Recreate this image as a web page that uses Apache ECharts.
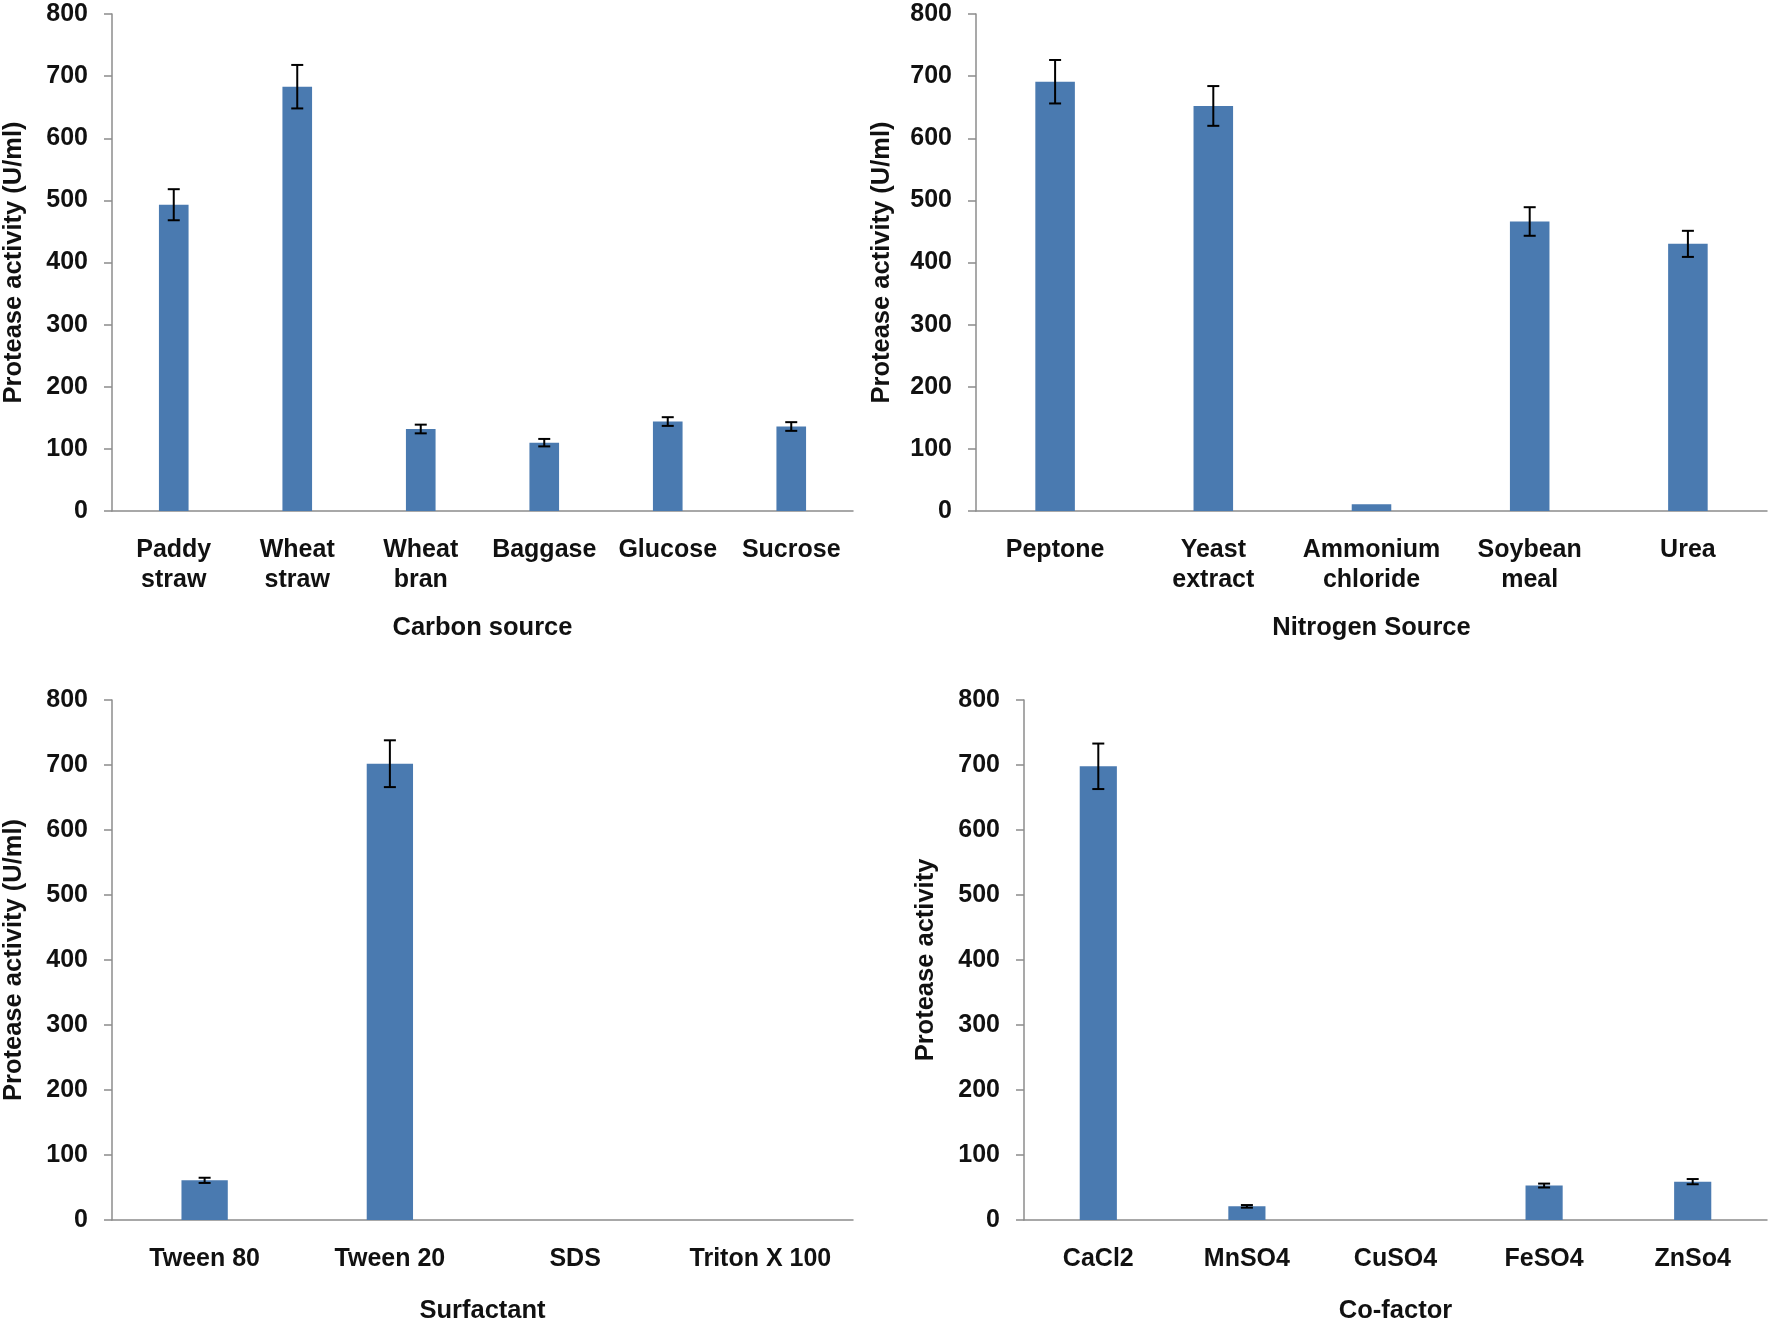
<!DOCTYPE html>
<html><head><meta charset="utf-8">
<script src="https://cdn.jsdelivr.net/npm/echarts@6/dist/echarts.min.js"></script>
<style>html,body{margin:0;padding:0;background:#fff}#c{width:1772px;height:1325px}</style>
</head><body><div id="c"></div>
<script>
const carbonCats = ['Paddy\nstraw','Wheat\nstraw','Wheat\nbran','Baggase','Glucose','Sucrose'];
const carbonVals = [493, 683, 132, 110, 144, 136];
const carbonErr  = [25, 35, 7, 6, 7, 7];

const nitroCats = ['Peptone','Yeast\nextract','Ammonium\nchloride','Soybean\nmeal','Urea'];
const nitroVals = [691, 652, 11, 466, 430];
const nitroErr  = [35, 32, 0, 23, 21];

const surfCats = ['Tween 80','Tween 20','SDS','Triton X 100'];
const surfVals = [61, 702, 0, 0];
const surfErr  = [4, 36, 0, 0];

const cofCats = ['CaCl2','MnSO4','CuSO4','FeSO4','ZnSo4'];
const cofVals = [698, 21, 0, 53, 59];
const cofErr  = [35, 2, 0, 3, 4];

const yTicks = [0,100,200,300,400,500,600,700,800];
const xNames = ['Carbon source','Nitrogen Source','Surfactant','Co-factor'];
const yNames = ['Protease activity (U/ml)','Protease activity (U/ml)','Protease activity (U/ml)','Protease activity'];

const FONT = 'Liberation Sans, Arial, sans-serif';
const BAR = '#4a7ab0';
const AXIS = '#8c8c8c';

const grids = [
  {left:112, top:14, width:741, height:497},
  {left:976, top:14, width:791, height:497},
  {left:112, top:700, width:741, height:524},
  {left:1024, top:700, width:743, height:524}
];
const cats = [carbonCats, nitroCats, surfCats, cofCats];
const vals = [carbonVals, nitroVals, surfVals, cofVals];
const errs = [carbonErr, nitroErr, surfErr, cofErr];
const xNameGap = [104, 104, 78, 78];
const yNameGap = [85, 81, 85, 85];
const barW = ['24%','25%','25%','25%'];

const xAxis = [], yAxis = [], series = [];
for (let i = 0; i < 4; i++) {
  xAxis.push({
    type:'category', gridIndex:i, data:cats[i],
    axisLine:{lineStyle:{color:AXIS, width:1.5}},
    axisTick:{show:false},
    axisLabel:{color:'#111', fontFamily:FONT, fontWeight:'bold', fontSize:25, lineHeight:30, margin:24, interval:0},
    name:xNames[i], nameLocation:'middle', nameGap:xNameGap[i],
    nameTextStyle:{color:'#111', fontFamily:FONT, fontWeight:'bold', fontSize:25.5}
  });
  yAxis.push({
    type:'value', gridIndex:i, min:0, max:800, interval:100,
    axisLine:{show:true, lineStyle:{color:AXIS, width:1.5}},
    axisTick:{show:true, length:8, lineStyle:{color:AXIS, width:1.5}},
    splitLine:{show:false},
    axisLabel:{color:'#111', fontFamily:FONT, fontWeight:'bold', fontSize:25, margin:24,
      formatter: v => yTicks.includes(v) ? String(v) : ''},
    name:yNames[i], nameLocation:'middle', nameGap:yNameGap[i],
    nameTextStyle:{color:'#111', fontFamily:FONT, fontWeight:'bold', fontSize:25.5}
  });
  series.push({
    type:'bar', xAxisIndex:i, yAxisIndex:i, data:vals[i], barWidth:barW[i],
    itemStyle:{color:BAR}, silent:true
  });
  series.push({
    type:'custom', xAxisIndex:i, yAxisIndex:i, silent:true, z:5,
    data: vals[i].map((v, k) => [k, v, errs[i][k]]),
    renderItem: function(params, api) {
      const x = api.value(0), v = api.value(1), e = api.value(2);
      if (!e) return null;
      const hi = api.coord([x, v + e]), lo = api.coord([x, v - e]);
      const w = 6;
      const st = {stroke:'#000', lineWidth:2};
      return {type:'group', children:[
        {type:'line', shape:{x1:hi[0], y1:hi[1], x2:lo[0], y2:lo[1]}, style:st},
        {type:'line', shape:{x1:hi[0]-w, y1:hi[1], x2:hi[0]+w, y2:hi[1]}, style:st},
        {type:'line', shape:{x1:lo[0]-w, y1:lo[1], x2:lo[0]+w, y2:lo[1]}, style:st}
      ]};
    }
  });
}

const chart = echarts.init(document.getElementById('c'), null, {renderer:'canvas'});
chart.setOption({animation:false, backgroundColor:'#fff', grid:grids, xAxis, yAxis, series});
</script></body></html>
